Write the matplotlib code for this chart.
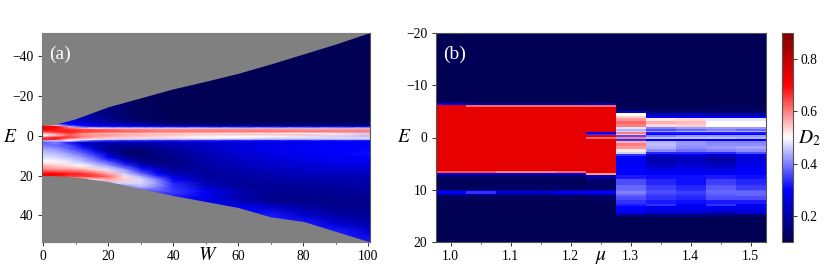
import numpy as np
import matplotlib
matplotlib.use("Agg")
import matplotlib.pyplot as plt

plt.rcParams['font.family'] = ['Liberation Serif', 'DejaVu Serif']
plt.rcParams['mathtext.fontset'] = 'stix'

# panel (a)
w_grid = [-1, 4, 8, 12, 16, 20, 25, 30, 35, 40, 50, 60, 70, 80, 90, 101]
e_grid_a = [-52, -30, -15, -9, -7, -5.8, -5.2, -4.5, -3.7, -3, -2, -1, -0.3, 0.3, 1, 2, 2.6,
            3.5, 5, 7, 9, 11, 13, 15, 17, 19, 20.5, 22, 24, 26, 28, 30, 33, 36, 40, 44, 48, 54]
d2_a = np.array([
    [.11, .11, .11, .11, .11, .11, .11, .11, .11, .11, .11, .11, .11, .11, .11, .11],
    [.11, .11, .11, .11, .11, .11, .11, .11, .11, .11, .11, .11, .11, .11, .11, .11],
    [.12, .12, .12, .14, .15, .16, .14, .12, .12, .11, .11, .11, .11, .11, .11, .11],
    [.20, .22, .25, .22, .19, .16, .14, .12, .12, .11, .11, .11, .11, .11, .11, .11],
    [.22, .26, .28, .25, .22, .19, .17, .15, .13, .12, .12, .12, .12, .12, .12, .12],
    [.30, .30, .30, .27, .25, .23, .21, .19, .17, .15, .14, .13, .13, .13, .13, .13],
    [.66, .50, .32, .29, .27, .25, .24, .22, .20, .18, .16, .15, .14, .14, .14, .14],
    [.74, .70, .45, .33, .30, .30, .28, .28, .27, .26, .25, .25, .25, .25, .25, .25],
    [.74, .70, .62, .55, .50, .48, .47, .47, .46, .46, .46, .45, .45, .45, .45, .45],
    [.74, .68, .66, .64, .63, .62, .60, .60, .59, .59, .59, .59, .59, .58, .58, .58],
    [.65, .68, .68, .66, .65, .64, .63, .62, .61, .61, .61, .61, .61, .61, .61, .61],
    [.55, .60, .66, .60, .57, .56, .55, .55, .54, .54, .53, .52, .52, .50, .48, .46],
    [.50, .55, .62, .58, .58, .58, .56, .55, .55, .55, .53, .55, .55, .56, .52, .56],
    [.50, .58, .64, .60, .58, .57, .56, .55, .54, .53, .52, .50, .50, .48, .46, .44],
    [.62, .68, .66, .60, .57, .55, .54, .53, .53, .52, .50, .50, .48, .48, .47, .47],
    [.74, .68, .55, .52, .50, .48, .47, .47, .46, .46, .46, .45, .45, .45, .46, .46],
    [.45, .45, .50, .42, .36, .34, .33, .33, .32, .32, .32, .31, .31, .31, .31, .31],
    [.36, .40, .32, .25, .23, .22, .22, .22, .23, .23, .25, .26, .27, .28, .29, .29],
    [.40, .38, .36, .28, .20, .18, .18, .18, .20, .21, .24, .26, .28, .29, .30, .30],
    [.44, .42, .38, .34, .26, .18, .15, .15, .17, .19, .23, .26, .28, .29, .30, .30],
    [.46, .45, .42, .38, .33, .22, .15, .14, .16, .18, .22, .25, .27, .29, .30, .31],
    [.48, .47, .45, .42, .37, .30, .18, .15, .15, .17, .21, .24, .26, .28, .29, .30],
    [.50, .50, .48, .45, .41, .36, .26, .17, .16, .16, .20, .23, .25, .27, .28, .28],
    [.56, .54, .52, .50, .46, .42, .34, .24, .19, .17, .20, .22, .24, .25, .26, .27],
    [.60, .58, .58, .56, .53, .48, .42, .32, .24, .19, .19, .21, .23, .24, .25, .25],
    [.70, .70, .68, .66, .62, .56, .46, .38, .30, .22, .19, .20, .21, .23, .23, .23],
    [.70, .70, .66, .66, .66, .62, .52, .44, .34, .26, .19, .20, .20, .22, .22, .22],
    [.30, .50, .50, .50, .52, .57, .54, .47, .40, .30, .20, .19, .20, .21, .21, .21],
    [.30, .30, .30, .30, .40, .46, .47, .47, .42, .33, .22, .19, .19, .19, .20, .20],
    [.30, .30, .30, .30, .30, .30, .38, .44, .40, .34, .24, .19, .18, .19, .19, .20],
    [.30, .30, .30, .30, .30, .30, .30, .34, .37, .35, .30, .22, .18, .18, .18, .19],
    [.30, .30, .30, .30, .30, .30, .30, .30, .32, .33, .27, .20, .17, .17, .18, .18],
    [.30, .30, .30, .30, .30, .30, .30, .30, .30, .30, .30, .22, .18, .17, .17, .17],
    [.30, .30, .30, .30, .30, .30, .30, .30, .30, .30, .30, .30, .25, .20, .17, .17],
    [.30, .30, .30, .30, .30, .30, .30, .30, .30, .30, .30, .30, .32, .25, .20, .18],
    [.30, .30, .30, .30, .30, .30, .30, .30, .30, .30, .30, .30, .32, .32, .25, .20],
    [.30, .30, .30, .30, .30, .30, .30, .30, .30, .30, .30, .30, .32, .32, .32, .25],
    [.30, .30, .30, .30, .30, .30, .30, .30, .30, .30, .30, .30, .32, .32, .32, .32],
])
edge_w = [-1, 3, 5, 10, 20, 30, 40, 50, 60, 70, 80, 90, 100, 101]
edge_top = [-5.5, -5.5, -6.3, -8.5, -14.5, -19, -23.5, -27.3, -31.3, -36, -41, -46, -51.5, -52]
edge_bot = [20, 20, 20.2, 20.7, 23, 26.5, 30, 33, 36, 40.7, 43, 48, 53, 54]

# panel (b)
mu_vals = [1.0, 1.05, 1.1, 1.15, 1.2, 1.25, 1.3, 1.35, 1.4, 1.45, 1.5]
e_edges_b = [-20, -6.6, -6.2, -5.9, -5.0, -4.6, -4.2, -3.8, -3.2, -2.6, -2.1, -1.7, -1.3, -1.0, -0.7,
             -0.4, -0.1, 0.2, 0.6, 1, 1.6, 2.2, 2.7, 3.1, 3.5, 4.5, 5.5, 6.4, 6.8, 7.2, 8, 9, 10, 10.3,
             10.8, 11.2, 12, 12.7, 13.2, 14, 14.6, 15.2, 20]
d2_b = np.array([
    [.11, .11, .11, .11, .11, .11, .11, .11, .11, .11, .11],
    [.28, .20, .20, .20, .20, .22, .11, .11, .11, .11, .11],
    [.74, .62, .62, .62, .62, .62, .11, .11, .11, .11, .11],
    [.74, .74, .74, .74, .74, .74, .12, .12, .12, .12, .12],
    [.74, .74, .74, .74, .74, .74, .24, .15, .15, .14, .14],
    [.74, .74, .74, .74, .74, .74, .50, .22, .22, .20, .20],
    [.74, .74, .74, .74, .74, .74, .54, .30, .30, .30, .30],
    [.74, .74, .74, .74, .74, .74, .58, .52, .53, .48, .48],
    [.74, .74, .74, .74, .74, .74, .62, .56, .55, .50, .50],
    [.74, .74, .74, .74, .74, .74, .60, .53, .54, .50, .50],
    [.74, .74, .74, .74, .74, .74, .48, .40, .42, .42, .42],
    [.74, .74, .74, .74, .74, .74, .44, .36, .38, .40, .38],
    [.74, .74, .74, .74, .74, .74, .46, .42, .44, .44, .44],
    [.74, .74, .74, .74, .74, .30, .60, .32, .32, .32, .32],
    [.74, .74, .74, .74, .74, .34, .55, .30, .30, .30, .30],
    [.74, .74, .74, .74, .74, .74, .36, .40, .42, .42, .42],
    [.74, .74, .74, .74, .74, .62, .60, .45, .45, .45, .44],
    [.74, .74, .74, .74, .74, .74, .34, .26, .27, .27, .27],
    [.74, .74, .74, .74, .74, .74, .56, .44, .42, .40, .40],
    [.74, .74, .74, .74, .74, .74, .60, .45, .42, .41, .41],
    [.74, .74, .74, .74, .74, .74, .58, .44, .41, .42, .43],
    [.74, .74, .74, .74, .74, .74, .52, .41, .39, .40, .41],
    [.74, .74, .74, .74, .74, .74, .46, .33, .33, .33, .36],
    [.74, .74, .74, .74, .74, .74, .34, .25, .27, .25, .27],
    [.74, .74, .74, .74, .74, .74, .29, .21, .23, .20, .26],
    [.74, .74, .74, .74, .74, .74, .29, .22, .24, .22, .27],
    [.74, .74, .74, .74, .74, .74, .30, .26, .27, .26, .29],
    [.64, .64, .60, .60, .62, .74, .30, .29, .29, .28, .30],
    [.26, .26, .24, .24, .26, .58, .30, .30, .30, .30, .30],
    [.13, .13, .13, .13, .13, .20, .32, .31, .31, .32, .31],
    [.12, .12, .12, .12, .12, .13, .36, .33, .31, .35, .33],
    [.12, .12, .13, .13, .13, .13, .38, .35, .33, .37, .35],
    [.20, .22, .17, .17, .20, .24, .39, .36, .34, .38, .37],
    [.30, .34, .26, .26, .28, .30, .40, .36, .35, .38, .38],
    [.17, .17, .15, .15, .17, .18, .38, .35, .34, .37, .38],
    [.13, .12, .12, .12, .12, .13, .36, .34, .33, .36, .36],
    [.11, .11, .11, .11, .11, .12, .34, .32, .31, .32, .32],
    [.11, .11, .11, .11, .11, .11, .32, .34, .29, .34, .28],
    [.11, .11, .11, .11, .11, .11, .30, .28, .28, .28, .28],
    [.11, .11, .11, .11, .11, .11, .27, .24, .24, .22, .24],
    [.11, .11, .11, .11, .11, .11, .16, .16, .16, .15, .15],
    [.11, .11, .11, .11, .11, .11, .11, .11, .11, .11, .11],
])

fig = plt.figure(figsize=(8.3, 2.77), dpi=100)
W, H = 830.0, 277.0


def place(x0, x1, y0, y1):
    return fig.add_axes([x0 / W, 1 - y1 / H, (x1 - x0) / W, (y1 - y0) / H])


spine_col = '#555555'
ax1 = place(41.5, 370, 33, 242)
pm1 = ax1.pcolormesh(w_grid, e_grid_a, d2_a, cmap='seismic', vmin=0.1, vmax=0.9, shading='gouraud')
ax1.fill_between(edge_w, -60, edge_top, color='#808080', lw=0, zorder=3)
ax1.fill_between(edge_w, edge_bot, 60, color='#808080', lw=0, zorder=3)
ax1.set_xlim(-0.5, 100.5)
ax1.set_ylim(53.3, -51.5)
ax1.set_xticks(range(0, 101, 20))
ax1.set_xticks(range(10, 100, 20), minor=True)
ax1.set_yticks([-40, -20, 0, 20, 40])
ax1.set_yticklabels(['\u221240', '\u221220', '0', '20', '40'])
ax1.text(0.024, 0.90, '(a)', color='white', fontsize=14, transform=ax1.transAxes, va='center', zorder=5)
ax1.set_xlabel('$W$', fontsize=14)
ax1.xaxis.set_label_coords(0.505, -0.065)
ax1.set_ylabel('$E$', fontsize=14, rotation=0)
ax1.yaxis.set_label_coords(-0.095, 0.5)
ax1.xaxis.label.set_va('center')
ax1.yaxis.label.set_va('center')

ax2 = place(435.7, 765.7, 33, 242)
mu_edges = [m - 0.025 for m in mu_vals] + [mu_vals[-1] + 0.025]
pm2 = ax2.pcolormesh(mu_edges, e_edges_b, d2_b, cmap='seismic', vmin=0.1, vmax=0.9, shading='flat')
ax2.set_xlim(0.975, 1.525)
ax2.set_ylim(20, -20)
ax2.set_xticks([1.0, 1.1, 1.2, 1.3, 1.4, 1.5])
ax2.set_xticks([1.05, 1.15, 1.25, 1.35, 1.45], minor=True)
ax2.set_yticks([-20, -10, 0, 10, 20])
ax2.set_yticklabels(['\u221220', '\u221210', '0', '10', '20'])
ax2.text(0.024, 0.90, '(b)', color='white', fontsize=14, transform=ax2.transAxes, va='center', zorder=5)
ax2.set_xlabel(r'$\mu$', fontsize=14)
ax2.xaxis.set_label_coords(0.5, -0.075)
ax2.set_ylabel('$E$', fontsize=14, rotation=0)
ax2.yaxis.set_label_coords(-0.095, 0.5)
ax2.xaxis.label.set_va('center')
ax2.yaxis.label.set_va('center')

cax = place(782.3, 793.3, 33, 242)
cb = fig.colorbar(pm2, cax=cax)
cb.set_ticks([0.2, 0.4, 0.6, 0.8])
cb.ax.set_yticklabels(['0.2', '0.4', '0.6', '0.8'])
cb.outline.set_edgecolor(spine_col)
cb.outline.set_linewidth(0.8)
cax.tick_params(labelsize=9.8, length=3, width=0.7, pad=2, color='#333333')
fig.text(809 / W, 1 - 138 / H, '$D_2$', fontsize=14, ha='center', va='center',
         bbox=dict(facecolor='white', edgecolor='none', pad=1))

for ax in (ax1, ax2):
    ax.tick_params(labelsize=9.8, length=3, width=0.7, pad=3, color='#333333')
    ax.tick_params(which='minor', length=1.5, width=0.6, color='#333333')
    for s in ax.spines.values():
        s.set_edgecolor(spine_col)
        s.set_linewidth(0.8)

fig.savefig('out.png', dpi=100)
